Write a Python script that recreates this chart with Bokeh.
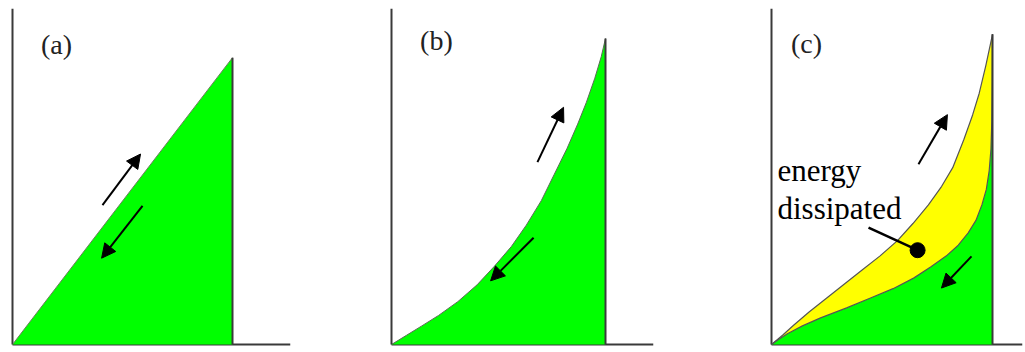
from bokeh.plotting import figure
from bokeh.layouts import row
from bokeh.models import Range1d, Arrow, NormalHead
from bokeh.core.properties import value
from bokeh.embed import file_html
from bokeh.resources import INLINE

# ---- stress-strain curves (strain, stress), scaled so the peak is (1, 1) ----
# (a) linear elastic: loading and unloading on the same straight line
a_strain = [0.0, 1.0]
a_stress = [0.0, 1.0]

# (b) nonlinear elastic: loading and unloading on the same curve
b_strain = [0.0, 0.07, 0.14, 0.22, 0.31, 0.40, 0.48, 0.56, 0.63, 0.70,
            0.76, 0.82, 0.87, 0.91, 0.95, 0.98, 1.0]
b_stress = [0.0, 0.03, 0.06, 0.095, 0.14, 0.195, 0.255, 0.32, 0.39, 0.47,
            0.555, 0.64, 0.72, 0.79, 0.87, 0.94, 1.0]

# (c) hysteresis: loading curve above, unloading curve below
c_load_strain = [0.0, 0.05, 0.10, 0.17, 0.25, 0.33, 0.41, 0.49, 0.57, 0.64,
                 0.71, 0.77, 0.82, 0.87, 0.91, 0.94, 0.97, 1.0]
c_load_stress = [0.0, 0.03, 0.062, 0.105, 0.15, 0.195, 0.24, 0.285, 0.335, 0.39,
                 0.45, 0.51, 0.57, 0.66, 0.74, 0.81, 0.90, 1.0]
c_unload_strain = [1.0, 0.999, 0.997, 0.993, 0.985, 0.972, 0.952, 0.925, 0.89, 0.845,
                   0.79, 0.72, 0.643, 0.55, 0.448, 0.34, 0.222, 0.14, 0.072, 0.03, 0.0]
c_unload_stress = [1.0, 0.85, 0.72, 0.63, 0.56, 0.50, 0.45, 0.40, 0.36, 0.32,
                   0.285, 0.25, 0.214, 0.18, 0.15, 0.118, 0.086, 0.06, 0.035, 0.015, 0.0]

# direction arrows: (x_start, y_start, x_end, y_end)
a_arrows = [(0.409, 0.486, 0.582, 0.664), (0.591, 0.483, 0.405, 0.301)]
b_arrows = [(0.682, 0.596, 0.804, 0.775), (0.664, 0.349, 0.463, 0.208)]
c_arrows = [(0.665, 0.581, 0.796, 0.741), (0.905, 0.284, 0.769, 0.182)]

panel_labels = ["(a)", "(b)", "(c)"]
panel_label_pos = [(0.20, 1.045), (0.21, 0.993), (0.158, 0.971)]

note_lines = ["energy", "dissipated"]
note_x = [0.027, 0.027]
note_y = [0.56, 0.438]
note_leader_x = [0.439, 0.661]
note_leader_y = [0.377, 0.304]

GREEN = "#00FF00"
YELLOW = "#FFFF00"
AXIS = "#3a3a3a"
SERIF = value("Liberation Serif")
H = 352


def make_panel(fig_left, fig_width, origin, peak, right, top):
    ox, oy = origin
    px, py = peak
    sx = px - ox
    sy = oy - py
    p = figure(width=fig_width, height=H, x_axis_type=None, y_axis_type=None,
               output_backend="svg", toolbar_location=None,
               x_range=Range1d(-2 / sx, (right - ox) / sx),
               y_range=Range1d(-2 / sy, (oy - top) / sy),
               min_border_left=ox - 2 - fig_left,
               min_border_right=fig_left + fig_width - right,
               min_border_top=top,
               min_border_bottom=H - (oy + 2))
    p.outline_line_color = None
    p.background_fill_color = "white"
    p.border_fill_color = "white"
    xe = (right - ox) / sx
    ye = (oy - top) / sy
    # axes
    p.line([0, 0], [0, ye], line_color=AXIS, line_width=2)
    p.line([0, xe], [0, 0], line_color=AXIS, line_width=2)
    return p


def add_arrows(p, arrows):
    for x0, y0, x1, y1 in arrows:
        p.add_layout(Arrow(x_start=x0, y_start=y0, x_end=x1, y_end=y1,
                           line_color="black", line_width=2,
                           end=NormalHead(size=14, fill_color="black",
                                          line_color="black", line_width=1)))


def add_label(p, text, pos):
    p.text(x=[pos[0]], y=[pos[1]], text=[text], text_font=SERIF,
           text_font_size="28px", text_align="center", text_baseline="middle",
           text_color="#222222")


# ---- (a) ----
pa = make_panel(0, 380, (12, 345), (232, 53), 290, 3)
pa.patch(a_strain + [1.0], a_stress + [0.0], fill_color=GREEN, line_color=None)
pa.line(a_strain, a_stress, line_color="#6b7d5b", line_width=1)
pa.line([1.0, 1.0], [0.0, 1.0], line_color=AXIS, line_width=2)
add_arrows(pa, a_arrows)
add_label(pa, panel_labels[0], panel_label_pos[0])

# ---- (b) ----
pb = make_panel(380, 380, (391, 345), (605, 38), 653, 8)
pb.patch(b_strain + [1.0], b_stress + [0.0], fill_color=GREEN, line_color=None)
pb.line(b_strain, b_stress, line_color="#5b6b55", line_width=1)
pb.line([1.0, 1.0], [0.0, 1.0], line_color=AXIS, line_width=2)
add_arrows(pb, b_arrows)
add_label(pb, panel_labels[1], panel_label_pos[1])

# ---- (c) ----
pc = make_panel(760, 265, (771, 344), (992, 31), 1022, 5)
pc.patch(c_load_strain + c_unload_strain, c_load_stress + c_unload_stress,
         fill_color=YELLOW, line_color=None)
pc.patch(c_unload_strain + [1.0], c_unload_stress + [0.0], fill_color=GREEN, line_color=None)
pc.line(c_load_strain, c_load_stress, line_color="#555555", line_width=1.2)
pc.line(c_unload_strain, c_unload_stress, line_color="#555555", line_width=1.2)
pc.line([1.0, 1.0], [0.0, 1.0], line_color=AXIS, line_width=2)
add_arrows(pc, c_arrows)
add_label(pc, panel_labels[2], panel_label_pos[2])
pc.text(x=note_x, y=note_y, text=note_lines, text_font=SERIF,
        text_font_size="31px", text_align="left", text_baseline="alphabetic",
        text_color="black")
pc.line(note_leader_x, note_leader_y, line_color="black", line_width=2.5)
pc.scatter([note_leader_x[-1]], [note_leader_y[-1]], size=15, marker="circle",
           fill_color="black", line_color="black")

layout = row(pa, pb, pc, spacing=0)
open("out.html", "w").write(file_html(layout, INLINE))
